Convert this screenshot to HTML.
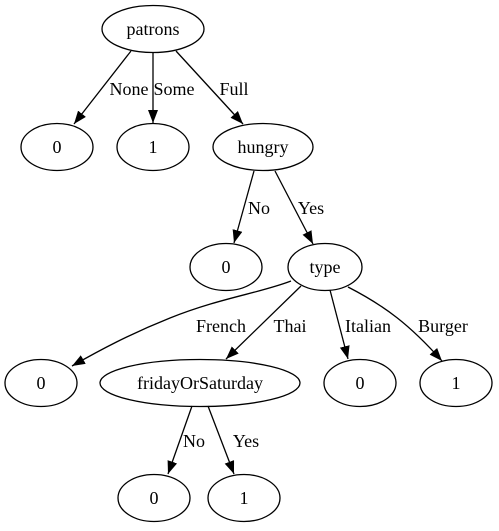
<!DOCTYPE html>
<html><head><style>html,body{margin:0;padding:0;background:#fff;}svg{display:block}</style></head>
<body>
<svg width="499" height="531" viewBox="0 0 499 531" xmlns="http://www.w3.org/2000/svg" font-family="Liberation Serif, serif" font-size="18">
<defs>
<marker id="a" markerUnits="userSpaceOnUse" markerWidth="14" markerHeight="12" refX="13" refY="5" orient="auto">
<polygon points="0,0 13,5 0,10" fill="#000"/>
</marker>
</defs>
<g fill="none" stroke="#000" stroke-width="1.3">
<ellipse cx="153" cy="29" rx="51" ry="23.5"/>
<ellipse cx="57" cy="147" rx="36" ry="23.5"/>
<ellipse cx="153" cy="147" rx="36" ry="23.5"/>
<ellipse cx="263" cy="147" rx="50" ry="23.5"/>
<ellipse cx="226" cy="267" rx="36" ry="23.5"/>
<ellipse cx="325" cy="267" rx="37" ry="23.5"/>
<ellipse cx="41" cy="383" rx="36" ry="23.5"/>
<ellipse cx="200" cy="383" rx="100" ry="23.5"/>
<ellipse cx="360" cy="383" rx="36" ry="23.5"/>
<ellipse cx="456" cy="383" rx="36" ry="23.5"/>
<ellipse cx="154" cy="498" rx="36" ry="23.5"/>
<ellipse cx="244" cy="498" rx="36" ry="23.5"/>
<g marker-end="url(#a)">
<path d="M131,51 L74,124"/>
<path d="M153,53 L153,123"/>
<path d="M176,51 L243,124"/>
<path d="M254,171 L234,243"/>
<path d="M275,171 L313,244"/>
<path d="M291,281 C260,293 220,298 170,318 C130,334 100,350 72,366"/>
<path d="M301,286 L226,359"/>
<path d="M330,290 L348,359"/>
<path d="M348,287 C385,306 410,325 442,361"/>
<path d="M192,406 L168,474"/>
<path d="M208,406 L234,474"/>
</g>
</g>
<g fill="#000" text-anchor="middle">
<text x="153" y="35">patrons</text>
<text x="57" y="153">0</text>
<text x="153" y="153">1</text>
<text x="263" y="153">hungry</text>
<text x="226" y="273">0</text>
<text x="325" y="273">type</text>
<text x="41" y="389">0</text>
<text x="200" y="389">fridayOrSaturday</text>
<text x="360" y="389">0</text>
<text x="456" y="389">1</text>
<text x="154" y="504">0</text>
<text x="244" y="504">1</text>
<text x="129" y="95">None</text>
<text x="174" y="95">Some</text>
<text x="234" y="95">Full</text>
<text x="259" y="214">No</text>
<text x="311" y="214">Yes</text>
<text x="221" y="332">French</text>
<text x="290" y="332">Thai</text>
<text x="368" y="332">Italian</text>
<text x="443" y="332">Burger</text>
<text x="194" y="447">No</text>
<text x="246" y="447">Yes</text>
</g>
</svg>
</body></html>
